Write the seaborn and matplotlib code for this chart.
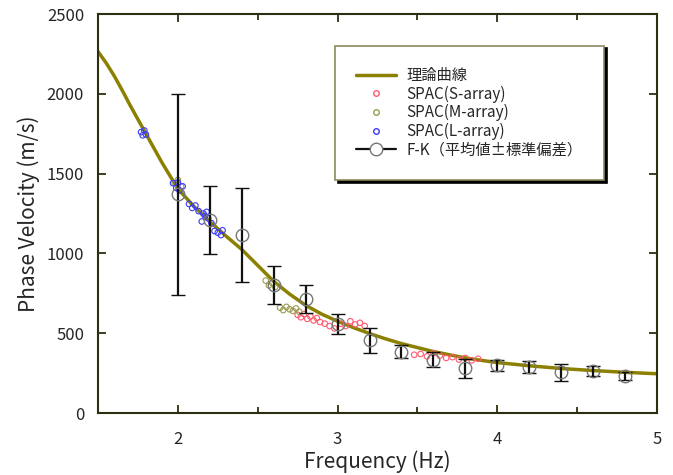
import numpy as np
import pandas as pd
import seaborn as sns
import matplotlib.pyplot as plt
from matplotlib.lines import Line2D
from matplotlib.ticker import MultipleLocator

# theoretical dispersion curve
theory_f = [1.5, 1.55, 1.6, 1.65, 1.7, 1.75, 1.8, 1.9, 2.0, 2.1, 2.2, 2.3, 2.4, 2.5, 2.6, 2.7, 2.8, 2.9,
            3.0, 3.1, 3.2, 3.3, 3.4, 3.5, 3.6, 3.7, 3.8, 3.9, 4.0, 4.2, 4.4, 4.6, 4.8, 5.0]
theory_v = [2265, 2195, 2115, 2025, 1930, 1840, 1750, 1570, 1405, 1295, 1200, 1110, 1025, 925, 825, 745, 675, 620,
            575, 535, 498, 465, 435, 410, 385, 365, 345, 330, 316, 296, 279, 266, 255, 246]

# SPAC observations
spac_s_f = [2.75, 2.77, 2.79, 2.81, 2.83, 2.85, 2.87, 2.89, 2.92, 2.95, 2.98, 3.02, 3.05,
            3.08, 3.11, 3.14, 3.17, 3.48, 3.52, 3.56, 3.60, 3.64, 3.68, 3.72, 3.76, 3.80, 3.84, 3.88]
spac_s_v = [615, 600, 620, 590, 605, 580, 595, 570, 560, 545, 530, 560, 545,
            575, 555, 565, 545, 365, 370, 355, 375, 360, 345, 350, 335, 345, 330, 340]

spac_m_f = [1.98, 2.0, 2.02, 2.55, 2.57, 2.59, 2.61, 2.64, 2.66, 2.68, 2.70, 2.72, 2.74, 2.76]
spac_m_v = [1440, 1460, 1420, 830, 800, 815, 790, 660, 645, 665, 650, 640, 655, 635]

spac_l_f = [1.77, 1.78, 1.79, 1.80, 1.97, 1.99, 2.0, 2.01, 2.03, 2.07, 2.09, 2.11, 2.13,
            2.15, 2.16, 2.17, 2.18, 2.19, 2.21, 2.23, 2.25, 2.27, 2.28]
spac_l_v = [1760, 1740, 1770, 1745, 1440, 1410, 1445, 1395, 1420, 1310, 1285, 1300, 1265,
            1200, 1250, 1235, 1260, 1220, 1190, 1140, 1130, 1115, 1145]

# F-K (mean +/- std)
fk_f = [2.0, 2.2, 2.4, 2.6, 2.8, 3.0, 3.2, 3.4, 3.6, 3.8, 4.0, 4.2, 4.4, 4.6, 4.8]
fk_v = [1370, 1210, 1115, 800, 715, 560, 455, 385, 335, 280, 300, 288, 255, 265, 230]
fk_err = [630, 215, 295, 120, 90, 62, 80, 40, 45, 60, 35, 35, 52, 32, 25]

sns.set_style("ticks")
plt.rcParams['font.family'] = ['Noto Sans CJK JP', 'DejaVu Sans']

line_col = '#8b8000'
spine_col = '#2e2e10'

fig = plt.figure(figsize=(6.73, 4.75), dpi=100)
ax = fig.add_axes([0.1456, 0.1305, 0.8306, 0.84])

sns.lineplot(x=theory_f, y=theory_v, color=line_col, linewidth=2.5, ax=ax, zorder=2)
sns.scatterplot(x=spac_s_f, y=spac_s_v, ax=ax, s=16, facecolor='none',
                edgecolor='#ff5a6e', linewidth=0.8, zorder=3)
sns.scatterplot(x=spac_m_f, y=spac_m_v, ax=ax, s=16, facecolor='none',
                edgecolor='#9a9a50', linewidth=0.8, zorder=3)
sns.scatterplot(x=spac_l_f, y=spac_l_v, ax=ax, s=16, facecolor='none',
                edgecolor='#3a3aff', linewidth=0.8, zorder=3)
ax.errorbar(fk_f, fk_v, yerr=fk_err, fmt='o', ms=9, mfc='none', mec='#777777',
            mew=1.0, ecolor='#111111', elinewidth=1.6, capsize=5, capthick=1.6, zorder=4)

ax.set_xlim(1.5, 5)
ax.set_ylim(0, 2500)
ax.xaxis.set_major_locator(MultipleLocator(1))
ax.xaxis.set_minor_locator(MultipleLocator(0.5))
ax.yaxis.set_major_locator(MultipleLocator(500))
ax.tick_params(which='both', direction='in', top=True, right=True,
               color=spine_col, width=1.3, labelsize=12)
ax.tick_params(which='major', length=6)
ax.tick_params(which='minor', length=4)
ax.tick_params(axis='x', pad=13)
ax.tick_params(axis='y', pad=10)
for sp in ax.spines.values():
    sp.set_color(spine_col)
    sp.set_linewidth(1.5)
ax.set_xlabel('Frequency (Hz)', fontsize=15, labelpad=2)
ax.set_ylabel('Phase Velocity (m/s)', fontsize=15, labelpad=5)

handles = [
    Line2D([], [], color=line_col, lw=2.5),
    Line2D([], [], ls='none', marker='o', ms=4, mfc='none', mec='#ff5a6e'),
    Line2D([], [], ls='none', marker='o', ms=4, mfc='none', mec='#9a9a50'),
    Line2D([], [], ls='none', marker='o', ms=4, mfc='none', mec='#3a3aff'),
    Line2D([], [], color='#111111', lw=1.6, marker='o', ms=9, mfc='white', mec='#777777'),
]
labels = ['理論曲線', 'SPAC(S-array)', 'SPAC(M-array)', 'SPAC(L-array)', 'F-K（平均値±標準偏差）']
leg = ax.legend(handles, labels, loc='upper left', bbox_to_anchor=(0.41, 0.94),
                fontsize=11, frameon=True, fancybox=False, framealpha=1,
                edgecolor='#8a8a60', borderpad=1.4, labelspacing=0.1,
                handlelength=2.6, handletextpad=0.7,
                shadow={'color': 'black', 'alpha': 1})
leg.get_frame().set_linewidth(1.2)

fig.savefig('out.png', dpi=100)
